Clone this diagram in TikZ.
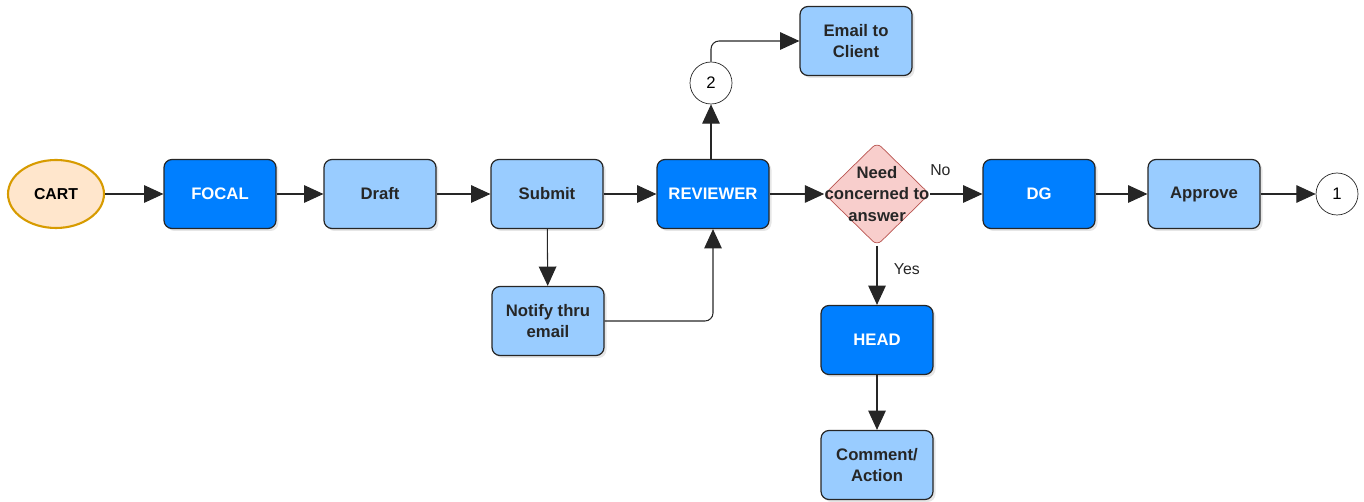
\documentclass[tikz,border=0pt]{standalone}
\usepackage{fontspec}
\setmainfont{Liberation Sans}
\usetikzlibrary{arrows.meta,shapes.geometric,shadows}

\definecolor{rolefill}{HTML}{007FFF}
\definecolor{taskfill}{HTML}{99CCFF}
\definecolor{startfill}{HTML}{FFE6CC}
\definecolor{startline}{HTML}{D79B00}
\definecolor{askfill}{HTML}{F8CECC}
\definecolor{askline}{HTML}{B85450}

\tikzset{
  box/.style={rectangle, rounded corners=0.16cm, draw=black!85, line width=0.7pt,
    minimum width=2.24cm, minimum height=1.38cm, align=center,
    font=\fontsize{9.5}{12}\selectfont\bfseries,
    drop shadow={opacity=0.2, shadow xshift=0.05cm, shadow yshift=-0.05cm}},
  rolebox/.style={box, fill=rolefill, text=white},
  taskbox/.style={box, fill=taskfill, text=black!85},
  startnode/.style={ellipse, draw=startline, line width=1.2pt, fill=startfill,
    minimum width=1.92cm, minimum height=1.36cm, font=\fontsize{9}{12}\selectfont\bfseries},
  asknode/.style={diamond, rounded corners=0.12cm, draw=askline, fill=askfill,
    minimum width=2.1cm, minimum height=2.06cm, inner sep=0pt},
  connector/.style={circle, draw=black!85, fill=white, minimum size=0.84cm, inner sep=0pt,
    font=\fontsize{9.5}{12}\selectfont},
  flow/.style={draw=black!85, line width=0.6pt, -{Triangle[length=11pt,width=10pt]}},
  edgetext/.style={font=\fontsize{9}{11}\selectfont, text=black!85}
}

\begin{document}
\begin{tikzpicture}[x=0.02cm, y=-0.02cm]
  \useasboundingbox (0,0) rectangle (1364,502);
  %%%%% NODES %%%%%
  \node[startnode] (cart) at (56,194) {CART};
  \node[rolebox] (focal) at (220,194) {FOCAL};
  \node[taskbox] (draft) at (380,194) {Draft};
  \node[taskbox] (submit) at (547,194) {Submit};
  \node[rolebox] (reviewer) at (713,194) {REVIEWER};
  \node[asknode] (need) at (877,194) {};
  \node[align=center, font=\fontsize{9.5}{12}\selectfont\bfseries, text=black!85] (needtext) at (need) {Need\\concerned to\\answer};
  \node[rolebox] (dg) at (1039,194) {DG};
  \node[taskbox] (approve) at (1204,194) {Approve};
  \node[connector] (one) at (1337,194) {1};

  \node[connector] (two) at (711,83) {2};
  \node[taskbox] (email) at (856,41) {Email to\\Client};
  \node[taskbox] (notify) at (548,321) {Notify thru\\email};
  \node[rolebox] (head) at (877,340) {HEAD};
  \node[taskbox] (comment) at (877,465) {Comment/\\Action};

  %%%%% EDGES %%%%%
  \draw[flow] (cart) -- (focal);
  \draw[flow] (focal) -- (draft);
  \draw[flow] (draft) -- (submit);
  \draw[flow] (submit) -- (reviewer);
  \draw[flow] (reviewer) -- (need.west);
  \draw[flow] (need.east) -- node[edgetext, pos=0.2, above=7pt] (no) {No} (dg);
  \draw[flow] (dg) -- (approve);
  \draw[flow] (approve) -- (one);

  \draw[flow] (submit) -- (notify);
  \draw[flow, rounded corners=0.16cm] (notify.east) -| (reviewer.south);
  \draw[flow] (reviewer.north -| two) -- (two);
  \draw[flow, rounded corners=0.16cm] (two.north) |- (email.west);

  \draw[flow] (need.south) -- node[edgetext, pos=0.4, right=6pt] (yes) {Yes} (head);
  \draw[flow] (head) -- (comment);
\end{tikzpicture}
\end{document}
